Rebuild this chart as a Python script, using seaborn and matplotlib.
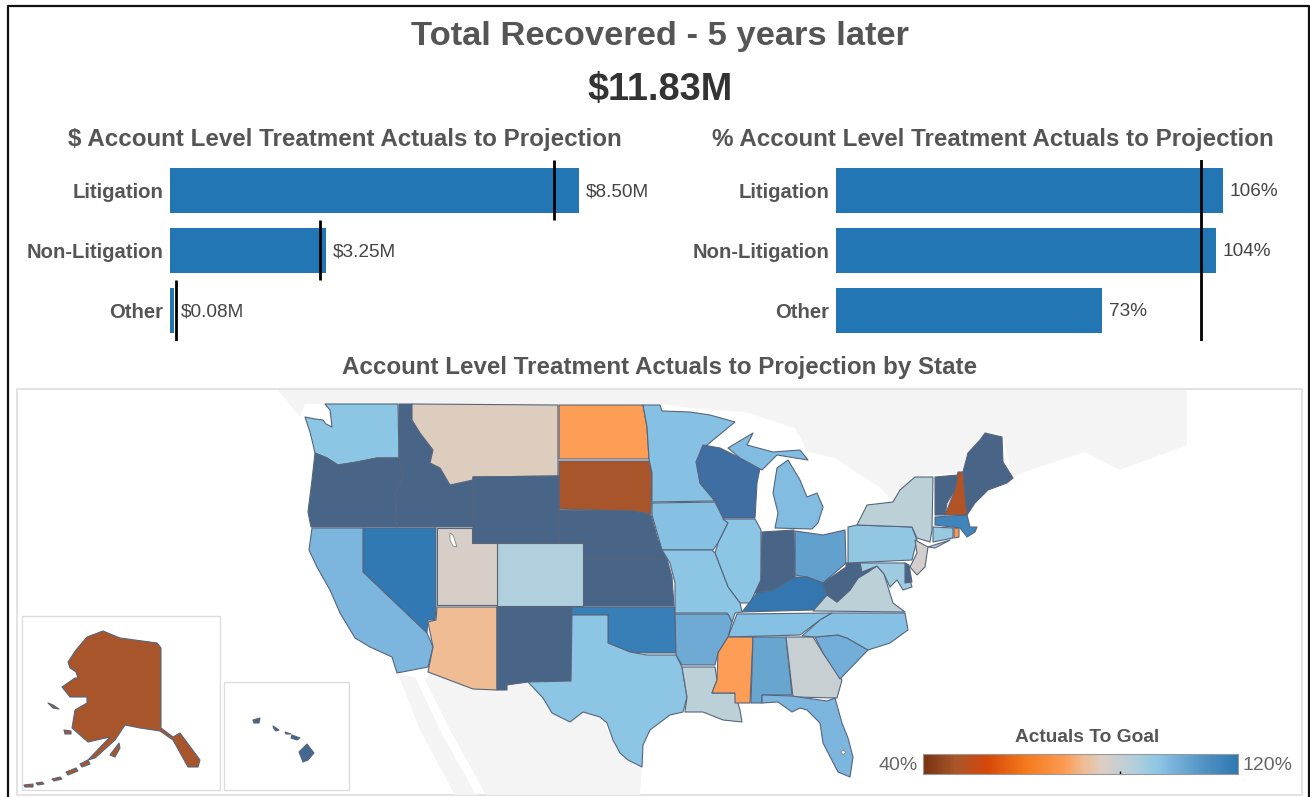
import matplotlib
matplotlib.use('Agg')
import matplotlib.pyplot as plt
import numpy as np
import seaborn as sns
from matplotlib.colors import LinearSegmentedColormap, Normalize
from matplotlib.patches import Rectangle

categories = ['Litigation', 'Non-Litigation', 'Other']
dollar_actual = [8.50, 3.25, 0.08]
dollar_target = [7.98, 3.12, 0.12]
dollar_labels = ['$8.50M', '$3.25M', '$0.08M']
pct_actual = [106, 104, 73]
pct_target = 100
pct_labels = ['106%', '104%', '73%']

# actuals to goal by state, % (dark slate is above the legend range)
state_values = {
    'WA': 100, 'OR': 140, 'ID': 140, 'MT': 85, 'ND': 76, 'SD': 48, 'WY': 140, 'NE': 140,
    'KS': 140, 'CO': 94, 'UT': 87, 'NV': 120, 'CA': 103, 'AZ': 81, 'NM': 140, 'TX': 100,
    'OK': 118, 'MN': 101, 'IA': 101, 'MO': 100, 'AR': 106, 'LA': 92, 'MS': 76, 'AL': 107,
    'GA': 90, 'FL': 103, 'SC': 105, 'NC': 101, 'TN': 101, 'KY': 121, 'IL': 100, 'WI': 125,
    'MI': 102, 'IN': 140, 'OH': 108, 'WV': 140, 'VA': 92, 'PA': 99, 'NY': 92, 'NJ': 88,
    'MD': 97, 'DE': 140, 'CT': 98, 'RI': 75, 'MA': 116, 'VT': 140, 'NH': 50, 'ME': 140,
    'AK': 48, 'HI': 135,
}

# state outlines, in picture pixels
state_outlines = {
    'WA': [[(325,404),(398,404),(399,458),(377,458),(357,462),(338,465),(327,458),(315,453),(312,440),(310,432),(305,417),(315,419),(323,420),(326,424),(332,427),(331,418),(330,410)]],
    'OR': [[(315,453),(327,458),(338,465),(357,462),(377,458),(399,458),(403,477),(395,493),(397,527),(311,527),(308,512),(312,480)]],
    'ID': [[(399,404),(412,404),(412,420),(420,433),(433,450),(430,463),(440,468),(450,485),(473,480),(473,527),(397,527),(395,493),(403,477),(399,458)]],
    'MT': [[(412,404),(558,405),(558,476),(473,477),(473,480),(450,485),(440,468),(430,463),(433,450),(420,433),(412,420)]],
    'ND': [[(559,405),(643,405),(647,427),(649,459),(559,459)]],
    'SD': [[(559,461),(649,461),(652,473),(651,514),(633,511),(559,509)]],
    'WY': [[(473,477),(559,476),(559,543),(473,543)]],
    'NE': [[(559,510),(633,511),(651,515),(658,540),(667,559),(583,559),(583,543),(559,543)]],
    'KS': [[(583,559),(667,559),(672,577),(674,606),(583,606)]],
    'CO': [[(497,543),(583,543),(583,606),(497,606)]],
    'UT': [[(437,528),(472,528),(472,543),(497,543),(497,605),(437,605)]],
    'NV': [[(363,528),(436,528),(436,608),(435,620),(428,620),(427,633),(363,572)]],
    'CA': [[(312,528),(363,528),(363,572),(427,633),(433,647),(428,667),(397,673),(392,657),(370,647),(355,638),(340,613),(330,590),(317,567),(309,550)]],
    'AZ': [[(437,607),(497,607),(497,690),(473,689),(428,672),(433,647),(428,622),(436,620)]],
    'NM': [[(497,607),(572,607),(571,681),(528,682),(507,685),(507,690),(497,690)]],
    'OK': [[(572,607),(675,607),(676,653),(647,653),(630,652),(608,643),(608,615),(572,615)]],
    'TX': [[(572,615),(608,615),(608,643),(630,652),(647,655),(676,655),(682,667),(687,697),(683,712),(670,715),(650,730),(643,745),(642,767),(628,760),(620,753),(613,740),(607,723),(600,717),(583,712),(570,722),(552,713),(543,698),(528,682),(571,681)]],
    'MN': [[(643,405),(660,405),(662,411),(690,412),(710,415),(735,422),(707,445),(697,460),(700,483),(715,501),(652,502),(652,473),(649,459),(647,427)]],
    'WI': [[(703,445),(720,448),(740,458),(760,468),(757,483),(755,518),(723,518),(715,501),(700,483),(696,462)]],
    'IA': [[(652,503),(715,502),(723,518),(728,523),(718,543),(713,550),(662,550),(652,515)]],
    'IL': [[(723,519),(755,519),(761,530),(761,580),(750,603),(740,603),(728,587),(715,553),(718,543),(728,523)]],
    'IN': [[(762,532),(794,530),(795,577),(773,590),(755,593),(761,580)]],
    'OH': [[(795,531),(823,535),(845,530),(846,563),(823,583),(807,577),(795,575)]],
    'MI': [[(775,528),(812,529),(818,523),(823,507),(817,493),(807,497),(800,480),(788,460),(777,468),(773,493),(778,513)],
           [(728,448),(753,433),(747,445),(773,452),(800,450),(808,460),(777,455),(762,470),(740,458)]],
    'KY': [[(742,612),(757,593),(773,590),(795,577),(807,577),(823,583),(827,595),(813,610)]],
    'TN': [[(737,614),(832,613),(820,620),(800,635),(728,637)]],
    'MO': [[(662,550),(712,550),(715,553),(728,587),(740,603),(742,612),(735,613),(732,622),(727,613),(675,613),(675,583),(670,563)]],
    'AR': [[(675,614),(728,614),(732,622),(728,637),(718,653),(715,665),(682,665),(676,655)]],
    'LA': [[(682,667),(715,667),(717,680),(712,693),(735,693),(740,710),(742,722),(723,720),(703,712),(685,712),(687,697)]],
    'MS': [[(728,637),(753,637),(750,703),(735,703),(735,693),(712,693),(717,680),(718,653)]],
    'AL': [[(753,637),(786,637),(792,695),(762,695),(762,703),(751,703)]],
    'GA': [[(786,637),(813,637),(823,653),(842,680),(837,698),(793,697)]],
    'FL': [[(762,695),(792,696),(827,701),(835,698),(842,723),(848,738),(853,757),(850,777),(838,772),(823,743),(820,723),(815,718),(807,710),(800,708),(792,712),(778,702),(762,703)]],
    'SC': [[(815,637),(838,635),(847,638),(868,650),(840,679),(823,653)]],
    'NC': [[(802,636),(820,620),(832,613),(905,613),(908,630),(890,643),(868,650),(847,638),(838,635),(815,637)]],
    'VA': [[(813,611),(827,595),(837,602),(850,590),(858,578),(868,572),(877,566),(884,574),(888,587),(893,603),(905,612)]],
    'WV': [[(823,583),(846,567),(846,563),(860,563),(862,572),(877,565),(868,572),(858,578),(850,590),(837,602),(827,595)]],
    'PA': [[(848,527),(857,525),(912,527),(917,540),(912,560),(848,563)]],
    'NY': [[(857,525),(867,505),(893,502),(900,490),(915,477),(933,477),(932,530),(930,542),(917,538),(912,527)],
           [(928,547),(950,540),(935,548)]],
    'NJ': [[(915,540),(928,547),(925,567),(917,575),(910,567),(917,553)]],
    'MD': [[(860,563),(905,563),(912,587),(903,590),(897,580),(890,587),(884,574),(877,566),(862,572)]],
    'DE': [[(905,563),(909,565),(912,582),(905,583)]],
    'CT': [[(933,527),(953,528),(953,538),(933,542)]],
    'RI': [[(954,528),(959,528),(959,537),(954,538)]],
    'MA': [[(935,517),(967,515),(970,527),(977,527),(975,532),(967,537),(960,528),(935,525)]],
    'VT': [[(935,477),(958,475),(955,490),(947,503),(945,515),(935,515)]],
    'NH': [[(958,472),(963,472),(967,515),(945,515),(955,490)]],
    'ME': [[(963,472),(968,453),(980,440),(985,433),(1002,437),(1003,462),(1013,478),(1007,483),(988,490),(975,503),(967,515)]],
    'AK': [[(68,662),(76,650),(87,637),(103,631),(120,638),(157,643),(161,648),(161,728),(173,737),(180,733),(200,760),(198,767),(188,767),(173,740),(160,731),(140,728),(125,725),(115,740),(95,758),(88,760),(110,737),(88,742),(72,728),(75,710),(87,703),(87,697),(70,697),(62,687),(75,678),(78,678),(76,672),(70,668)],
           [(48,703),(53,705),(59,709),(53,708)], [(64,730),(71,731),(71,734),(65,734)], [(110,755),(119,743),(120,748),(115,757)],
           [(88,760),(80,764),(82,767),(90,764)], [(76,768),(66,772),(68,775),(78,771)], [(60,777),(52,779),(54,781),(62,779)],
           [(42,782),(36,783),(38,785),(44,784)], [(24,785),(33,784),(33,787),(25,787)]],
    'HI': [[(307,744),(314,753),(308,760),(303,762),(299,752)], [(292,735),(300,738),(297,740),(291,738)],
           [(273,726),(279,730),(276,731),(274,729)], [(285,732),(291,734),(286,734)], [(253,720),(260,718),(259,723),(254,723)]],
}
lake_outlines = [[(450,533),(453,535),(457,547),(453,546),(450,540)], [(843,750),(846,752),(843,755),(841,752)]]
canada_outline = [(278,390),(1187,390),(1187,445),(1120,470),(1085,452),(1030,470),(1013,477),(1002,437),(985,433),(963,472),(915,477),(893,502),(880,487),(865,478),(835,458),(808,452),(795,428),(745,412),(690,408),(660,404),(305,404),(300,417)]
mexico_outlines = [[(398,674),(415,677),(440,730),(476,795),(455,795),(420,730)],
                   [(430,673),(473,689),(497,690),(528,682),(543,698),(552,713),(570,722),(583,712),(600,717),(620,753),(642,767),(640,795),(486,795),(450,730),(425,680)]]

# legend stops: percent, colour
color_stops = [(40,'#7a3310'),(48,'#a9562c'),(56,'#d5480a'),(66,'#f57a1c'),(76,'#fd9c55'),(81,'#eebd96'),
               (85,'#ddcdbf'),(87,'#d7cec8'),(90,'#c8cfd2'),(94,'#b0d0dc'),(100,'#8cc6e4'),(103,'#7db6de'),
               (107,'#68a6d0'),(112,'#4f91c3'),(120,'#3079b3'),(125,'#3f6ea3'),(140,'#486487')]

sns.set_style('white')
plt.rcParams['font.family'] = ['Liberation Sans', 'DejaVu Sans']

W, H = 1310, 797
norm = Normalize(40, 140)
cmap = LinearSegmentedColormap.from_list('goal', [((p - 40) / 100, c) for p, c in color_stops])
fig = plt.figure(figsize=(W / 100, H / 100), dpi=100, facecolor='white')


def px_axes(x0, y0, x1, y1):
    return fig.add_axes([x0 / W, 1 - y1 / H, (x1 - x0) / W, (y1 - y0) / H])


# map, drawn on one axes in picture pixels
ax = fig.add_axes([0, 0, 1, 1])
ax.set_xlim(0, W)
ax.set_ylim(H, 0)
ax.axis('off')

ax.add_patch(Rectangle((17, 389), 1285, 406, fc='white', ec='#dddddd', lw=1.2))
for ring in [canada_outline] + mexico_outlines:
    ax.fill(*zip(*ring), fc='#f4f4f4', ec='none')
ax.add_patch(Rectangle((22, 616), 198, 174, fc='white', ec='#dddddd', lw=1))
ax.add_patch(Rectangle((224, 682), 125, 108, fc='white', ec='#dddddd', lw=1))

for state, rings in state_outlines.items():
    color = cmap(norm(state_values[state]))
    for ring in rings:
        ax.fill(*zip(*ring), fc=color, ec='#56657c', lw=0.8, joinstyle='round')
for ring in lake_outlines:
    ax.fill(*zip(*ring), fc='white', ec='#777777', lw=0.5)

# outer frame
ax.plot([8, 8, 1309, 1309], [797, 6, 6, 797], color='#111111', lw=1.6, clip_on=False)

ax.text(660, 36.5, 'Total Recovered - 5 years later', ha='center', va='center', fontsize=24.8, fontweight='bold', color='#555555')
ax.text(660.5, 90, '$11.83M', ha='center', va='center', fontsize=27.3, fontweight='bold', color='#333333')
ax.text(345, 139, '$ Account Level Treatment Actuals to Projection', ha='center', va='center', fontsize=17.4, fontweight='bold', color='#555555')
ax.text(993, 139, '% Account Level Treatment Actuals to Projection', ha='center', va='center', fontsize=17.4, fontweight='bold', color='#555555')
ax.text(659.5, 367, 'Account Level Treatment Actuals to Projection by State', ha='center', va='center', fontsize=17.4, fontweight='bold', color='#555555')

ax.text(1087, 737.5, 'Actuals To Goal', ha='center', va='center', fontsize=13.8, fontweight='bold', color='#555555')
ax.text(918, 765, '40%', ha='right', va='center', fontsize=14, color='#666666')
ax.text(1243, 765, '120%', ha='left', va='center', fontsize=14, color='#666666')


def bar_panel(x0, x1, xmax, values, labels):
    a = px_axes(x0, 160.5, x1, 340.5)
    a.patch.set_alpha(0)
    sns.barplot(x=values, y=categories, color='#2176b3', saturation=1, width=0.75, linewidth=0, ax=a)
    a.set_xlim(0, xmax)
    a.set_ylim(2.5, -0.5)
    a.set(xlabel='', ylabel='')
    a.set_xticks([])
    a.tick_params(axis='y', length=0, pad=5)
    for t in a.get_yticklabels():
        t.set_fontsize(14.6)
        t.set_fontweight('bold')
        t.set_color('#555555')
    sns.despine(ax=a, left=True, bottom=True)
    for lab in a.bar_label(a.containers[0], labels=labels, padding=5, fontsize=13.7, color='#444444'):
        lab.set_y(-1)
    return a


a1 = bar_panel(170, 680, 510 / 48.1, dollar_actual, dollar_labels)
for i, t in enumerate(dollar_target):
    a1.vlines(t, i - 0.5, i + 0.5, color='black', lw=2)

a2 = bar_panel(836, 1300, 464 / 3.65, pct_actual, pct_labels)
a2.axvline(pct_target, color='black', lw=2)

# legend ramp
cax = px_axes(923, 754, 1238, 774)
ramp = np.linspace(40, 120, 315).reshape(1, -1)
cax.imshow(ramp, aspect='auto', cmap=cmap, norm=norm, extent=(40, 120, 0, 1))
cax.set_xticks([])
cax.set_yticks([])
for s in cax.spines.values():
    s.set_color('#999999')
    s.set_linewidth(0.8)
cax.vlines(90, 0, 0.15, color='black', lw=1)

fig.savefig('out.png', dpi=100)
